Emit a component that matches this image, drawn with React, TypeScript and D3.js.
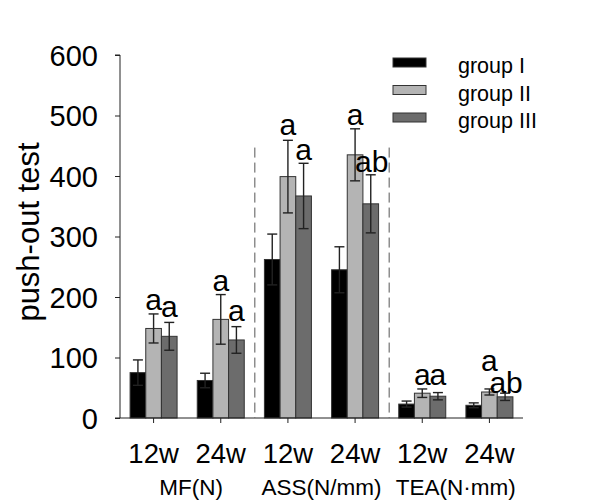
import { useRef, useEffect } from 'react'
import * as d3 from 'd3'

const timepoints = ['12w', '24w', '12w', '24w', '12w', '24w']
const measures = ['MF(N)', 'ASS(N/mm)', 'TEA(N·mm)']
const groups = ['group I', 'group II', 'group III']

// means per group, one value per timepoint column
const groupI = [75, 62, 262, 245, 23, 21]
const groupII = [148, 163, 399, 435, 41, 43]
const groupIII = [135, 129, 367, 354, 36, 35]

// error bars (sd)
const sdI = [21, 12, 42, 38, 5, 4]
const sdII = [24, 41, 60, 43, 7, 5]
const sdIII = [23, 22, 54, 48, 6, 6]

const yTicks = [0, 100, 200, 300, 400, 500, 600]

// significance letters: column, group index, text, baseline value
const letters: [number, number, string, number][] = [
  [0, 1, 'a', 178],
  [0, 2, 'a', 167],
  [1, 1, 'a', 210],
  [1, 2, 'a', 160],
  [2, 1, 'a', 468],
  [2, 2, 'a', 426],
  [3, 1, 'a', 484],
  [3, 2, 'ab', 407],
  [4, 1, 'a', 55],
  [4, 2, 'a', 55],
  [5, 1, 'a', 77],
  [5, 2, 'ab', 42],
]

const colors = ['#000000', '#b4b4b4', '#6c6c6c']
const font = '"Liberation Sans", Arial, sans-serif'

const App = () => {
  const svgRef = useRef<SVGSVGElement>(null)

  useEffect(() => {
    if (!svgRef.current) return
    const svg = d3.select(svgRef.current)
    svg.selectAll('*').remove()

    const means = [groupI, groupII, groupIII]
    const sds = [sdI, sdII, sdIII]

    const x = d3.scaleBand<number>()
      .domain(d3.range(timepoints.length))
      .range([120, 523])
      .padding(0)
    const sub = d3.scaleBand<number>()
      .domain([0, 1, 2])
      .range([-23.5, 23.5])
    const y = d3.scaleLinear().domain([0, 600]).range([418, 55])

    const barX = (c: number, g: number) => (x(c) || 0) + x.bandwidth() / 2 + (sub(g) || 0)
    const bw = sub.bandwidth()

    // dashed separators between measures
    svg.selectAll('.sep')
      .data([2, 4])
      .join('line')
      .attr('x1', d => (x(d) || 0) + 0.5)
      .attr('x2', d => (x(d) || 0) + 0.5)
      .attr('y1', y(447))
      .attr('y2', y(0))
      .attr('stroke', '#555')
      .attr('stroke-width', 1)
      .attr('stroke-dasharray', '10,5')

    const rows = means.flatMap((vals, g) => vals.map((v, c) => ({ g, c, v, sd: sds[g][c] })))

    svg.selectAll('.bar')
      .data(rows)
      .join('rect')
      .attr('x', d => barX(d.c, d.g))
      .attr('y', d => y(d.v))
      .attr('width', bw)
      .attr('height', d => y(0) - y(d.v))
      .attr('fill', d => colors[d.g])
      .attr('stroke', '#333')
      .attr('stroke-width', 1)

    const err = svg.append('g').attr('stroke', '#222').attr('stroke-width', 1.4)
    rows.forEach(d => {
      const cx = barX(d.c, d.g) + bw / 2
      err.append('line').attr('x1', cx).attr('x2', cx)
        .attr('y1', y(d.v - d.sd)).attr('y2', y(d.v + d.sd))
      ;[d.v - d.sd, d.v + d.sd].forEach(v => {
        err.append('line').attr('x1', cx - 5).attr('x2', cx + 5)
          .attr('y1', y(v)).attr('y2', y(v))
      })
    })

    svg.selectAll('.letter')
      .data(letters)
      .join('text')
      .attr('x', d => barX(d[0], d[1]) + bw / 2 + (d[2] === 'ab' ? 1 : 0))
      .attr('y', d => y(d[3]))
      .attr('text-anchor', 'middle')
      .attr('font-family', font)
      .attr('font-size', 30)
      .attr('fill', '#000')
      .text(d => d[2])

    // y axis
    const yAxis = svg.append('g')
      .attr('transform', 'translate(120,0)')
      .call(d3.axisLeft(y).tickValues(yTicks).tickSize(5).tickPadding(17))
    yAxis.select('.domain').attr('stroke', '#222').attr('d', `M-5,${y(600)}H0V${y(0)}H-5`)
    yAxis.selectAll('.tick line').attr('stroke', '#222')
    yAxis.selectAll('text')
      .attr('font-family', font)
      .attr('font-size', 29)
      .attr('fill', '#000')
      .attr('dy', '0.36em')

    // x axis
    const xAxis = svg.append('g')
      .attr('transform', `translate(0,${y(0)})`)
      .call(d3.axisBottom(x).tickFormat(i => timepoints[i as number]).tickSize(5).tickPadding(20))
    xAxis.select('.domain').attr('stroke', '#222').attr('d', 'M120,0H523')
    xAxis.selectAll('.tick line').attr('stroke', '#222')
    xAxis.selectAll('text')
      .attr('font-family', font)
      .attr('font-size', 27.5)
      .attr('fill', '#000')

    svg.selectAll('.measure')
      .data(measures)
      .join('text')
      .attr('x', (_, i) => (x(i * 2) || 0) + x.bandwidth() + (i === 0 ? 4 : 0))
      .attr('y', 495)
      .attr('text-anchor', 'middle')
      .attr('font-family', font)
      .attr('font-size', 22.5)
      .attr('fill', '#000')
      .text(d => d)

    svg.append('text')
      .attr('transform', 'translate(39,232) rotate(-90)')
      .attr('text-anchor', 'middle')
      .attr('font-family', font)
      .attr('font-size', 31)
      .attr('fill', '#000')
      .text('push-out test')

    // legend
    const leg = svg.append('g').attr('transform', 'translate(393,58)')
    groups.forEach((name, i) => {
      leg.append('rect')
        .attr('x', 0).attr('y', i * 27.5)
        .attr('width', 33).attr('height', 9)
        .attr('fill', colors[i])
        .attr('stroke', '#333')
      leg.append('text')
        .attr('x', 65).attr('y', i * 27.5 + 15)
        .attr('font-family', font)
        .attr('font-size', 21.5)
        .attr('fill', '#000')
        .text(name)
    })
  }, [])

  return (
    <>
      <style>{'body{margin:0}'}</style>
      <svg ref={svgRef} width={600} height={501} style={{ display: 'block', background: '#fff' }} />
    </>
  )
}

export default App
